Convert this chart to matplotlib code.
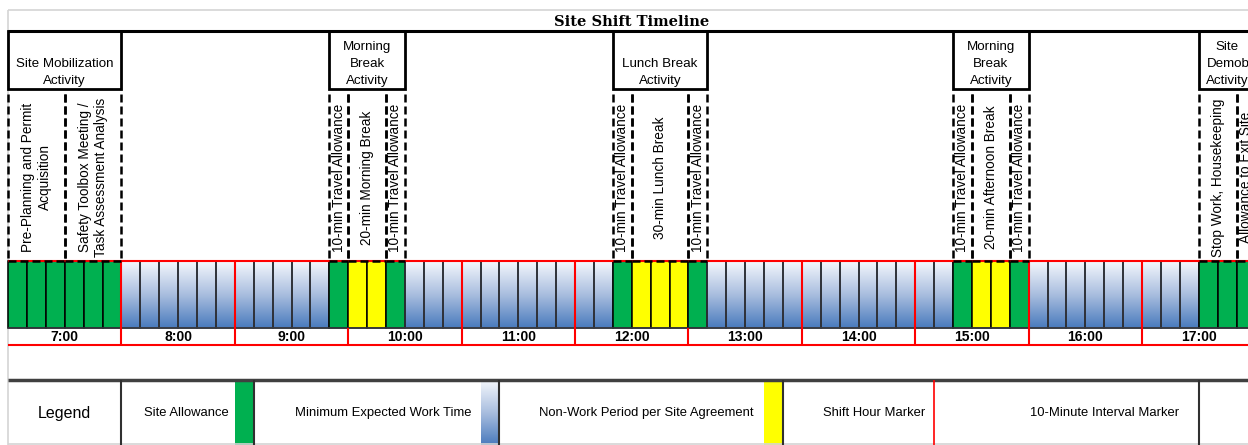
import matplotlib as mpl
import matplotlib.pyplot as plt
import numpy as np
from matplotlib.colors import LinearSegmentedColormap
from matplotlib.patches import Rectangle

mpl.use('agg')
plt.rcParams['font.family'] = ['Liberation Sans', 'DejaVu Sans']

# one cell = 10 minutes, first cell starts at 7:00
hour_labels = ["7:00", "8:00", "9:00", "10:00", "11:00", "12:00",
               "13:00", "14:00", "15:00", "16:00", "17:00"]
segment_kinds = ["allowance", "work", "allowance", "break", "allowance",
                 "work", "allowance", "break", "allowance",
                 "work", "allowance", "break", "allowance",
                 "work", "allowance"]
segment_minutes = [60, 110, 10, 20, 10, 110, 10, 30, 10, 130, 10, 20, 10, 90, 30]

activity_names = ["Site Mobilization\nActivity", "Morning\nBreak\nActivity",
                  "Lunch Break\nActivity", "Morning\nBreak\nActivity",
                  "Site\nDemobilization\nActivity"]
activity_start = [0, 17, 32, 50, 63]
activity_span = [6, 4, 5, 4, 3]

sub_names = ["Pre-Planning and Permit\nAcquisition",
             "Safety Toolbox Meeting /\nTask Assessment Analysis",
             "10-min Travel Allowance", "20-min Morning Break", "10-min Travel Allowance",
             "10-min Travel Allowance", "30-min Lunch Break", "10-min Travel Allowance",
             "10-min Travel Allowance", "20-min Afternoon Break", "10-min Travel Allowance",
             "Stop Work, Housekeeping", "Allowance to Exit Site"]
sub_start = [0, 3, 17, 18, 20, 32, 33, 36, 50, 51, 53, 63, 65]
sub_span = [3, 3, 1, 2, 1, 1, 3, 1, 1, 2, 1, 2, 1]

legend_labels = ["Site Allowance", "Minimum Expected Work Time",
                 "Non-Work Period per Site Agreement", "Shift Hour Marker",
                 "10-Minute Interval Marker"]
legend_label_x = [9.42, 19.87, 33.78, 45.85, 58.0]

GREEN = "#00b050"
YELLOW = "#ffff00"
grad = LinearSegmentedColormap.from_list("work", ["#f4f7fc", "#a9bedf", "#4a7bbd"])

# layout (pixel rows, cell columns)
CW = 18.9
X0 = 8
TITLE_TOP, TITLE_BOT, HDR_BOT, SUB_TOP = 10, 31, 89, 94
CELL_TOP, CELL_BOT, LBL_BOT = 261, 328, 345
LEG_TOP, LEG_BOT = 380, 445
LINE_STEP = 17
XMAX = (1248 - X0) / CW

fig = plt.figure(figsize=(12.48, 4.45), dpi=100)
ax = fig.add_axes([0, 0, 1, 1])
ax.axis("off")


def gradient_cell(x, y0, y1):
    ax.imshow(np.linspace(0, 1, 120).reshape(-1, 1), cmap=grad, aspect="auto",
              extent=(x, x + 1, y1, y0), interpolation="bilinear", zorder=1)


# frame lines
ax.hlines(TITLE_TOP, 0, XMAX, color="#d4d4d4", lw=1.2)
ax.vlines(0, TITLE_TOP, LEG_BOT, color="#d4d4d4", lw=1.2)
ax.text(33, (TITLE_TOP + TITLE_BOT) / 2 + 1, "Site Shift Timeline", ha="center", va="center",
        fontsize=10.5, fontweight="bold", family="DejaVu Serif")
ax.hlines(TITLE_BOT, 0, XMAX, color="black", lw=2.2, zorder=4)

# activity header boxes, text lines stacked up from the bottom edge
for name, s, n in zip(activity_names, activity_start, activity_span):
    ax.add_patch(Rectangle((s, TITLE_BOT), n, HDR_BOT - TITLE_BOT, fill=False,
                           ec="black", lw=2, zorder=4))
    lines = name.split("\n")[::-1]
    for k, line in enumerate(lines):
        y = HDR_BOT - 8 - LINE_STEP * k
        if line == "Demobilization":
            # too wide for the cell, runs past the cut edge like in the sheet
            ax.text(s + 0.42, y, line, ha="left", va="center", fontsize=9.6)
        else:
            ax.text(s + n / 2, y, line, ha="center", va="center", fontsize=9.6)

# sub activity columns
for name, s, n in zip(sub_names, sub_start, sub_span):
    for xe in (s, s + n):
        ax.vlines(xe, SUB_TOP, CELL_TOP, color="black", lw=1.8, linestyles=(0, (3.2, 1.6)), zorder=4)
    ax.hlines(CELL_TOP, s, s + n, color="black", lw=1.8, linestyles=(0, (3.2, 1.6)), zorder=6)
    ax.text(s + n / 2, (SUB_TOP + CELL_TOP) / 2, name, rotation=90, ha="center", va="center",
            fontsize=9.8, linespacing=1.25, rotation_mode="anchor")

# timeline cells
cell_kinds = []
for kind, mins in zip(segment_kinds, segment_minutes):
    cell_kinds += [kind] * (mins // 10)

for i, kind in enumerate(cell_kinds):
    if kind == "work":
        gradient_cell(i, CELL_TOP, CELL_BOT)
        ax.add_patch(Rectangle((i, CELL_TOP), 1, CELL_BOT - CELL_TOP, fill=False,
                               ec="#2e3138", lw=1.2, zorder=2))
    else:
        ax.add_patch(Rectangle((i, CELL_TOP), 1, CELL_BOT - CELL_TOP,
                               fc=GREEN if kind == "allowance" else YELLOW,
                               ec="black", lw=1.1, zorder=2))

# red hour markers
ax.hlines(CELL_TOP, 0, XMAX, color="#ff0000", lw=1.5, zorder=3)
ax.hlines(LBL_BOT, 0, XMAX, color="#ff0000", lw=1.5, zorder=3)
ax.hlines(CELL_BOT, 0, XMAX, color="#3a3d45", lw=1.1, zorder=3)
for h, lab in enumerate(hour_labels):
    ax.text(6 * h + 3, (CELL_BOT + LBL_BOT) / 2 + 0.5, lab, ha="center", va="center",
            fontsize=10, fontweight="bold")
    xe = 6 * h
    if h > 0:
        ax.vlines(xe, CELL_BOT, LBL_BOT, color="#ff0000", lw=1.5, zorder=3)
        if "work" in (cell_kinds[xe - 1], cell_kinds[xe]) and cell_kinds[xe - 1] != "break":
            ax.vlines(xe, CELL_TOP, CELL_BOT, color="#ff0000", lw=1.5, zorder=3)

# legend
ax.hlines(LEG_TOP, 0, XMAX, color="#404040", lw=2.5)
ax.hlines(LEG_BOT - 1, 0, XMAX, color="#d4d4d4", lw=1.2)
ax.text(3, (LEG_TOP + LEG_BOT) / 2 + 1, "Legend", ha="center", va="center", fontsize=11.5)
for lab, lx in zip(legend_labels, legend_label_x):
    ax.text(lx, (LEG_TOP + LEG_BOT) / 2 + 0.5, lab, ha="center", va="center", fontsize=9.4)
ax.add_patch(Rectangle((12, LEG_TOP), 1, LEG_BOT - LEG_TOP, fc=GREEN, ec="none"))
gradient_cell(25, LEG_TOP, LEG_BOT)
ax.add_patch(Rectangle((40, LEG_TOP), 1, LEG_BOT - LEG_TOP, fc=YELLOW, ec="none"))
ax.vlines(49, LEG_TOP, LEG_BOT, color="#ff0000", lw=1.2)
for xe in (6, 13, 26, 41, 63):
    ax.vlines(xe, LEG_TOP, LEG_BOT, color="#303030", lw=1.5)

ax.set_xlim(-X0 / CW, XMAX)
ax.set_ylim(445, 0)
fig.savefig("out.png", dpi=100)
